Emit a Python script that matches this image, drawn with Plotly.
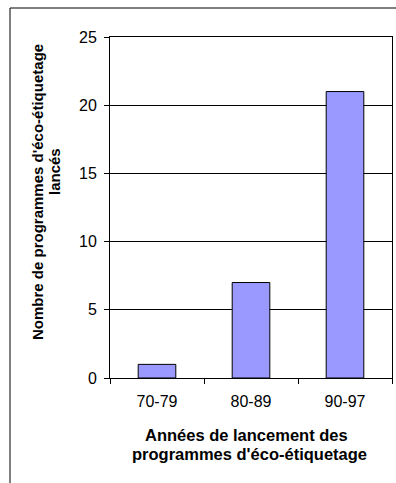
import plotly.graph_objects as go

# Eco-labelling programmes launched per period
periods = ["70-79", "80-89", "90-97"]
programmes = [1, 7, 21]
y_ticks = [0, 5, 10, 15, 20, 25]

W, H = 396, 483
L, R, T, B = 110, 4, 37, 105
PW, PH = W - L - R, H - T - B


def px(x):
    return (x - L) / PW


def py(y):
    return (H - B - y) / PH


FONT = "Liberation Sans, Arial, sans-serif"

fig = go.Figure(
    go.Bar(
        x=periods,
        y=programmes,
        width=0.4,
        marker=dict(color="#9999FF", line=dict(color="black", width=1)),
    )
)

fig.update_layout(
    width=W,
    height=H,
    margin=dict(l=L, r=R, t=T, b=B),
    paper_bgcolor="white",
    plot_bgcolor="white",
    showlegend=False,
    font=dict(family=FONT, color="black", size=16),
)

fig.update_xaxes(
    type="category",
    showline=True,
    linecolor="black",
    linewidth=1,
    mirror=True,
    ticks="outside",
    tickson="boundaries",
    ticklen=5,
    tickcolor="black",
    showgrid=False,
    tickfont=dict(size=16),
    ticklabelstandoff=9,
)

fig.update_yaxes(
    range=[0, 25],
    tickvals=y_ticks,
    showline=True,
    linecolor="black",
    linewidth=1,
    mirror=True,
    ticks="outside",
    ticklen=5,
    tickcolor="black",
    showgrid=True,
    gridcolor="black",
    gridwidth=1,
    zeroline=False,
    tickfont=dict(size=16),
    ticklabelstandoff=4,
)

y_title_font = dict(family=FONT, size=15, color="black", weight="bold")
x_title_font = dict(family=FONT, size=16.5, color="black", weight="bold")

annotations = [
    dict(text="Nombre de programmes d'éco-étiquetage", x=px(37), y=py(192),
         textangle=-90, font=y_title_font),
    dict(text="lancés", x=px(54), y=py(172), textangle=-90, font=y_title_font),
    dict(text="Années de lancement des", x=px(246), y=py(435), font=x_title_font),
    dict(text="programmes d'éco-étiquetage", x=px(249), y=py(454), font=x_title_font),
]
for a in annotations:
    fig.add_annotation(xref="paper", yref="paper", showarrow=False,
                       xanchor="center", yanchor="middle", **a)

# Outer chart frame (extends past the right and bottom edges)
fig.add_shape(type="rect", xref="paper", yref="paper",
              x0=px(10), x1=px(410), y0=py(500), y1=py(8),
              line=dict(color="black", width=1), fillcolor="rgba(0,0,0,0)")

fig.write_html("out.html")
